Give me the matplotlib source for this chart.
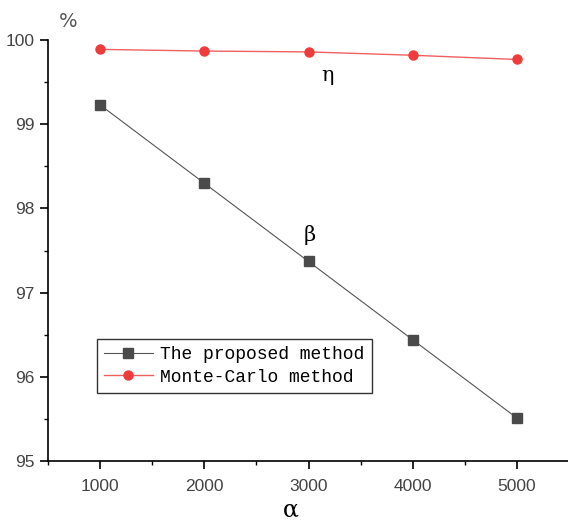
import matplotlib
matplotlib.use("Agg")
import matplotlib.pyplot as plt
from matplotlib.ticker import MultipleLocator

# datos
alpha = [1000, 2000, 3000, 4000, 5000]
proposed = [99.23, 98.30, 97.37, 96.44, 95.51]
monte_carlo = [99.89, 99.87, 99.86, 99.82, 99.77]

fig = plt.figure(figsize=(5.68, 5.21), dpi=100)
ax = fig.add_axes([0.0845, 0.1152, 0.9155, 0.8078])

ax.plot(alpha, proposed, color="#555555", lw=0.8, marker="s", ms=6.5,
        mfc="#4a4a4a", mec="#4a4a4a", label="The proposed method")
ax.plot(alpha, monte_carlo, color="#f06060", lw=1.0, marker="o", ms=6.5,
        mfc="#ee3b3b", mec="#ee3b3b", label="Monte-Carlo method")

ax.set_xlim(500, 5490)
ax.set_ylim(95, 100)
ax.set_xticks(alpha)
ax.xaxis.set_minor_locator(MultipleLocator(500))
ax.yaxis.set_major_locator(MultipleLocator(1))
ax.yaxis.set_minor_locator(MultipleLocator(0.5))
for s in ["top", "right"]:
    ax.spines[s].set_visible(False)
for s in ["left", "bottom"]:
    ax.spines[s].set_linewidth(1.2)
ax.tick_params(which="major", direction="out", length=6, width=1.2,
               labelsize=12.5, labelcolor="#444444")
ax.tick_params(which="minor", direction="out", length=3, width=1.0)
for lab in ax.get_xticklabels() + ax.get_yticklabels():
    lab.set_family("Liberation Sans")
ax.tick_params(axis="x", pad=7)

fig.text(0.512, 0.022, "α", fontsize=17, family="DejaVu Serif",
         ha="center", va="center")
fig.text(0.12, 0.958, "%", fontsize=14, color="#555555", ha="center", va="center")

ax.text(3120, 99.51, "η", fontsize=15, family="DejaVu Serif")
ax.text(2950, 97.61, "β", fontsize=15, family="DejaVu Serif")

leg = ax.legend(loc="upper left", bbox_to_anchor=(0.094, 0.29),
                prop={"family": "Liberation Mono", "size": 13},
                frameon=True, fancybox=False, edgecolor="black",
                borderpad=0.4, labelspacing=0.3, handlelength=2.7,
                handletextpad=0.4, borderaxespad=0)
leg.get_frame().set_linewidth(1.0)

plt.savefig("out.png", dpi=100)
